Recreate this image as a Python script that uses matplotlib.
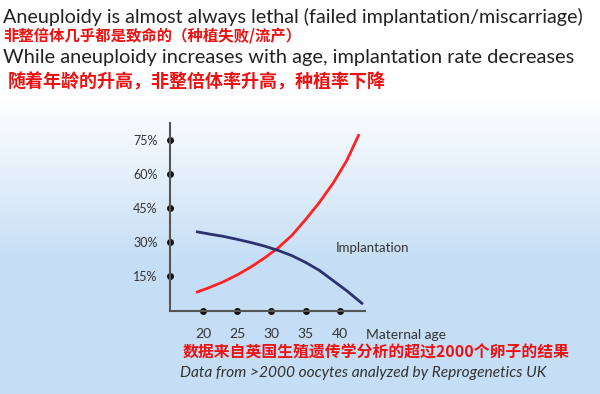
import numpy as np
import matplotlib.pyplot as plt

# values
age_red = [19.2, 21, 23, 25, 27, 29, 31, 33, 35, 37, 39, 41, 42.7]
aneuploidy = [8, 10, 12.5, 15.5, 19, 23, 27.5, 33, 40, 47.5, 56, 66, 77]
age_blue = [19.2, 21, 23, 25, 27, 29, 31, 33, 35, 37, 39, 41, 43.2]
implantation = [34.5, 33.5, 32.5, 31.2, 29.8, 28.2, 26.3, 24, 21, 17.5, 13, 8.5, 3]
x_ticks = [20, 25, 30, 35, 40]
y_ticks = [15, 30, 45, 60, 75]

W, H = 600, 394
fig = plt.figure(figsize=(W / 100, H / 100), dpi=100)
cjk = ['Noto Sans CJK SC', 'DejaVu Sans']
latin = ['Lato', 'DejaVu Sans']

# slide background: white at the top, light blue below
bg = fig.add_axes([0, 0, 1, 1], zorder=-1)
rows = np.arange(H)
t = np.clip((rows - 100) / 160, 0, 1)[:, None]
top = np.array([1.0, 1.0, 1.0])
bottom = np.array([197, 222, 245]) / 255
grad = top * (1 - t) + bottom * t
bg.imshow(np.repeat(grad[:, None, :], 4, axis=1), aspect='auto', extent=[0, 1, 0, 1])
bg.axis('off')

ax = fig.add_axes([170 / W, 1 - 311 / H, 195 / W, 188 / H])
ax.set_facecolor('none')
ax.plot(age_red, aneuploidy, color='#ff2222', lw=2)
ax.plot(age_blue, implantation, color='#2b3270', lw=2)
ax.set_xlim(15.2, 43.65)
ax.set_ylim(-0.4, 82.5)
for s in ['top', 'right']:
    ax.spines[s].set_visible(False)
for s in ['left', 'bottom']:
    ax.spines[s].set_color('#555555')
    ax.spines[s].set_linewidth(1.5)
ax.set_xticks(x_ticks)
ax.set_xticklabels([str(v) for v in x_ticks], family=latin, fontsize=10, color='#333333')
ax.set_yticks(y_ticks)
ax.set_yticklabels([f'{v}%' for v in y_ticks], family=latin, fontsize=9, color='#333333')
ax.tick_params(axis='x', length=0, pad=12)
ax.tick_params(axis='y', length=0, pad=9)
# dot tick marks on the axes
ax.plot(x_ticks, [-0.4] * len(x_ticks), 'o', color='#111111', ms=4, clip_on=False)
ax.plot([15.2] * len(y_ticks), y_ticks, 'o', color='#111111', ms=4, clip_on=False)
ax.text(39.4, 27.5, 'Implantation', family=latin, fontsize=9.5, color='#333333', va='center')
fig.text(366 / W, 1 - 335 / H, 'Maternal age', family=latin, fontsize=10,
         color='#333333', va='center')

def put(x, y, s, width, **kw):
    txt = fig.text(x / W, 1 - y / H, s, va='center', ha='left', fontsize=12, **kw)
    r = fig.canvas.get_renderer()
    bb = txt.get_window_extent(renderer=r)
    txt.set_fontsize(12 * width / bb.width)
    return txt

put(3, 17, 'Aneuploidy is almost always lethal (failed implantation/miscarriage)', 580,
    family=latin, color='#222222')
put(3, 37, '非整倍体几乎都是致命的（种植失败/流产）', 297, family=cjk, color='#ee1111', weight='bold')
put(3, 57, 'While aneuploidy increases with age, implantation rate decreases', 572,
    family=latin, color='#222222')
put(8, 82, '随着年龄的升高，非整倍体率升高，种植率下降', 377, family=cjk, color='#ee1111', weight='bold')
put(183, 353, '数据来自英国生殖遗传学分析的超过2000个卵子的结果', 385, family=cjk,
    color='#ee1111', weight='bold')
put(180, 373, 'Data from >2000 oocytes analyzed by Reprogenetics UK', 365, family=latin,
    color='#333333', style='italic')

fig.savefig('out.png', dpi=100)
